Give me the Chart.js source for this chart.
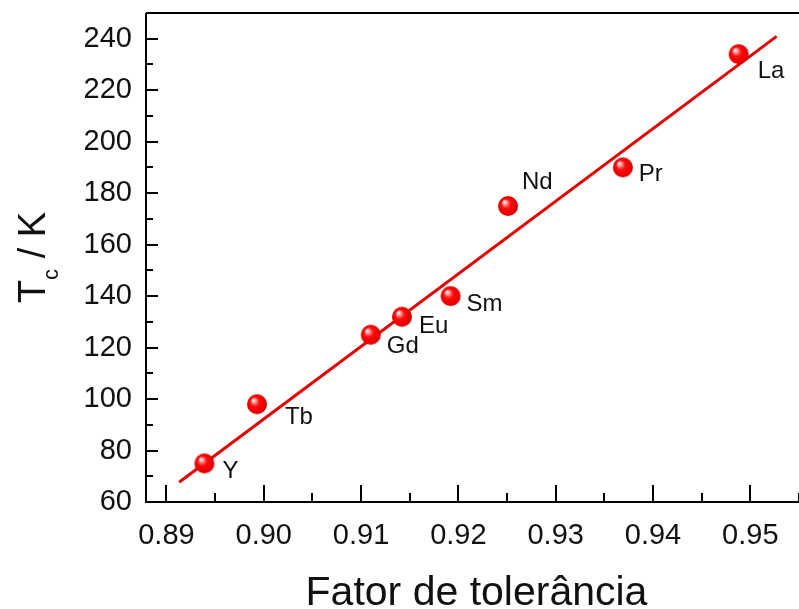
<!DOCTYPE html>
<html>
<head>
<meta charset="utf-8">
<script src="https://cdn.jsdelivr.net/npm/chart.js@4.4.1/dist/chart.umd.min.js"></script>
<style>
  html, body { margin: 0; padding: 0; background: #fff; }
  .wrap { width: 799px; height: 609px; }
</style>
</head>
<body>
<div class="wrap"><canvas id="tcChart"></canvas></div>
<script>
const elements = ["Y", "Tb", "Gd", "Eu", "Sm", "Nd", "Pr", "La"];
const tolerance = [0.8939, 0.8993, 0.9110, 0.9142, 0.9192, 0.9251, 0.9369, 0.9488];
const tcValues = [75, 98, 125, 132, 140, 175, 190, 234];

// linear fit, drawn between its two end points
const fitX = [0.8913, 0.9527];
const fitY = [67.7, 240.9];

const xTicks = [0.89, 0.90, 0.91, 0.92, 0.93, 0.94, 0.95];
const xMinorTicks = [0.895, 0.905, 0.915, 0.925, 0.935, 0.945, 0.955];
const yTicks = [60, 80, 100, 120, 140, 160, 180, 200, 220, 240];
const yMinorTicks = [70, 90, 110, 130, 150, 170, 190, 210, 230];

const FONT = '"Liberation Sans", Arial, sans-serif';

// label placement next to each sphere (px)
const labelOffset = {
  Y: [18, 8], Tb: [28, 13], Gd: [16, 12], Eu: [17, 10],
  Sm: [16, 8], Nd: [14, -24], Pr: [16, 7], La: [19, 17]
};

// shiny red sphere used as point style
function makeSphere(r) {
  const c = document.createElement("canvas");
  c.width = c.height = r * 2 + 2;
  const g = c.getContext("2d");
  const cx = r + 1, cy = r + 1;
  const grad = g.createRadialGradient(cx - r * 0.38, cy - r * 0.42, r * 0.05, cx, cy, r);
  grad.addColorStop(0, "#ffffff");
  grad.addColorStop(0.16, "#ff9c9c");
  grad.addColorStop(0.45, "#ff0a0a");
  grad.addColorStop(0.85, "#ea0000");
  grad.addColorStop(1, "#bc0000");
  g.fillStyle = grad;
  g.beginPath();
  g.arc(cx, cy, r, 0, Math.PI * 2);
  g.fill();
  return c;
}
const sphere = makeSphere(10);

// no extra room for tick labels hanging past the plot edges
function noPadding(s) {
  s.paddingTop = 0;
  s.paddingBottom = 0;
  s.paddingLeft = 0;
  s.paddingRight = 0;
}

const framePlugin = {
  id: "frame",
  afterDatasetsDraw(chart) {
    const { ctx } = chart;
    const pts = chart.getDatasetMeta(0).data;
    ctx.save();
    ctx.fillStyle = "#111";
    ctx.font = "24px " + FONT;
    ctx.textAlign = "left";
    ctx.textBaseline = "middle";
    pts.forEach((p, i) => {
      const off = labelOffset[elements[i]];
      ctx.fillText(elements[i], p.x + off[0], p.y + off[1]);
    });
    ctx.restore();
  },
  afterDraw(chart) {
    const { ctx, chartArea: a, scales: { x, y } } = chart;
    ctx.save();
    ctx.strokeStyle = "#000";
    ctx.lineWidth = 2;
    ctx.beginPath();
    ctx.moveTo(a.left, a.top);
    ctx.lineTo(a.right, a.top);
    ctx.moveTo(a.left, a.top);
    ctx.lineTo(a.left, a.bottom);
    ctx.lineTo(a.right, a.bottom);
    // inward ticks
    xTicks.forEach(v => {
      const px = Math.round(x.getPixelForValue(v));
      ctx.moveTo(px, a.bottom);
      ctx.lineTo(px, a.bottom - 17);
    });
    xMinorTicks.forEach(v => {
      const px = Math.round(x.getPixelForValue(v));
      ctx.moveTo(px, a.bottom);
      ctx.lineTo(px, a.bottom - 9);
    });
    yTicks.forEach(v => {
      const py = Math.round(y.getPixelForValue(v));
      ctx.moveTo(a.left, py);
      ctx.lineTo(a.left + 12, py);
    });
    yMinorTicks.forEach(v => {
      const py = Math.round(y.getPixelForValue(v));
      ctx.moveTo(a.left, py);
      ctx.lineTo(a.left + 7, py);
    });
    ctx.stroke();

    // axis titles
    ctx.fillStyle = "#111";
    ctx.font = "41px " + FONT;
    ctx.textAlign = "center";
    ctx.textBaseline = "alphabetic";
    ctx.fillText("Fator de tolerância", (a.left + a.right) / 2 + 4, 605);

    ctx.translate(45, (a.top + a.bottom) / 2);
    ctx.rotate(-Math.PI / 2);
    ctx.textAlign = "left";
    const big = "38px " + FONT, small = "22px " + FONT;
    ctx.font = big;
    const wT = ctx.measureText("T").width;
    const wRest = ctx.measureText(" / K").width;
    ctx.font = small;
    const wC = ctx.measureText("c").width;
    let cx = -(wT + wC + wRest) / 2;
    ctx.font = big;
    ctx.fillText("T", cx, 0);
    cx += wT;
    ctx.font = small;
    ctx.fillText("c", cx, 13);
    cx += wC;
    ctx.font = big;
    ctx.fillText(" / K", cx, 0);
    ctx.restore();
  }
};

new Chart(document.getElementById("tcChart"), {
  type: "scatter",
  data: {
    datasets: [
      {
        label: "Tc",
        data: tolerance.map((t, i) => ({ x: t, y: tcValues[i] })),
        pointStyle: sphere,
        pointRadius: 10,
        pointHoverRadius: 10
      },
      {
        type: "line",
        label: "ajuste",
        data: fitX.map((t, i) => ({ x: t, y: fitY[i] })),
        borderColor: "#e30000",
        borderWidth: 3,
        pointRadius: 0,
        fill: false
      }
    ]
  },
  options: {
    responsive: true,
    maintainAspectRatio: false,
    animation: false,
    layout: { autoPadding: false, padding: { left: 0, top: 13, right: 0, bottom: 0 } },
    plugins: {
      legend: { display: false },
      tooltip: { enabled: false }
    },
    scales: {
      x: {
        type: "linear",
        min: 0.8879,
        max: 0.955,
        afterBuildTicks: s => { s.ticks = xTicks.map(v => ({ value: v })); },
        afterFit: s => { s.height = 107; noPadding(s); },
        grid: { display: false, drawTicks: false },
        border: { display: false },
        ticks: {
          padding: 17,
          maxRotation: 0,
          autoSkip: false,
          color: "#111",
          font: { family: FONT, size: 29 },
          callback: v => v.toFixed(2)
        }
      },
      y: {
        type: "linear",
        min: 60,
        max: 250,
        afterBuildTicks: s => { s.ticks = yTicks.map(v => ({ value: v })); },
        afterFit: s => { s.width = 146; noPadding(s); },
        grid: { display: false, drawTicks: false },
        border: { display: false },
        ticks: {
          padding: 14,
          color: "#111",
          font: { family: FONT, size: 29 },
          callback: v => String(v)
        }
      }
    }
  },
  plugins: [framePlugin]
});
</script>
</body>
</html>
